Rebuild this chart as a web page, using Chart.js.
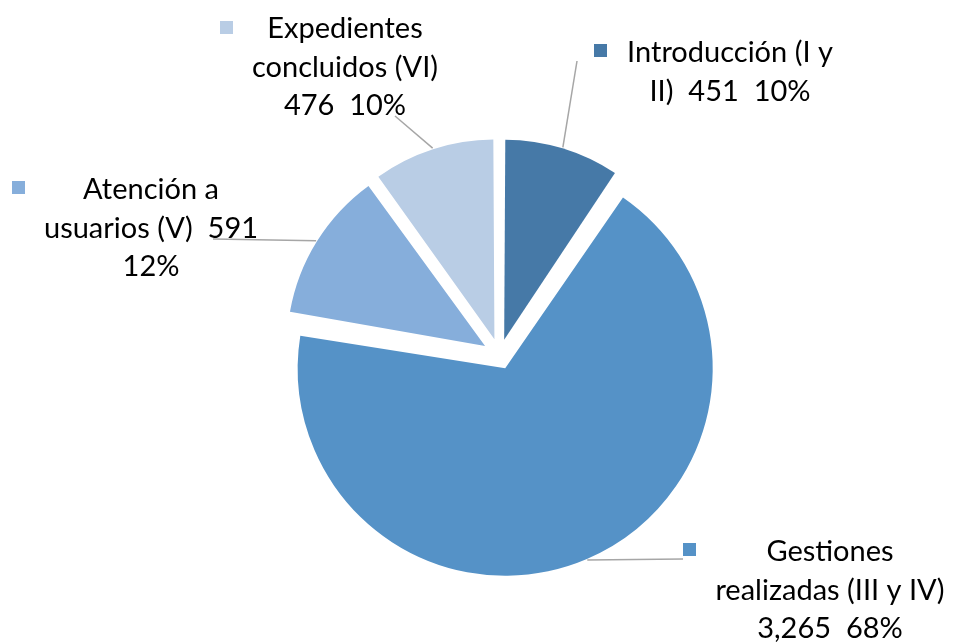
<!DOCTYPE html>
<html>
<head>
<meta charset="utf-8">
<script src="https://cdn.jsdelivr.net/npm/chart.js@4.4.1/dist/chart.umd.min.js"></script>
<style>
  html, body { margin: 0; padding: 0; background: #fff; }
  .chartBox { width: 953px; height: 643px; position: relative; }
</style>
</head>
<body>
<div class="chartBox">
  <canvas id="myChart"></canvas>
</div>
<script>
// section names, one line of text each
var categories = [
  ['Introducción (I y', 'II)'],
  ['Gestiones', 'realizadas (III y IV)'],
  ['Atención a', 'usuarios (V)'],
  ['Expedientes', 'concluidos (VI)']
];
var values = [451, 3265, 591, 476];
var percentLabels = ['10%', '68%', '12%', '10%'];
var colors = ['#4679A7', '#5592C7', '#86AEDB', '#B9CDE5'];

// how far each slice is pulled out (chart.js divides this by 4)
var explode = [64, 58, 68, 66];

// label blocks: text centre, first baseline, legend square, end of leader line
var labelSpots = [
  { cx: 730, y: 62,  sq: [594, 44],  end: [577, 61] },
  { cx: 830, y: 561, sq: [683, 543], end: [683, 559] },
  { cx: 151, y: 199, sq: [12, 181],  end: [213, 239] },
  { cx: 345, y: 38,  sq: [220, 21],  end: [395, 116] }
];

function labelLines(i) {
  var v = values[i].toLocaleString('en-US');
  var p = percentLabels[i];
  var c = categories[i];
  if (i == 0) return [c[0], c[1] + '  ' + v + '  ' + p];
  if (i == 2) return [c[0], c[1] + '  ' + v, p];
  return [c[0], c[1], v + '  ' + p];
}

var pieLabels = {
  id: 'pieLabels',
  afterDatasetsDraw: function(chart) {
    var ctx = chart.ctx;
    var meta = chart.getDatasetMeta(0);
    ctx.save();
    meta.data.forEach(function(arc, i) {
      var p = arc.getProps(['x', 'y', 'startAngle', 'endAngle', 'outerRadius', 'circumference'], true);
      var half = (p.startAngle + p.endAngle) / 2;
      var t = explode[i] / 4;
      var fix = 1 - Math.sin(Math.min(Math.PI, p.circumference));
      var r = p.outerRadius + t * fix;
      var ax = p.x + Math.cos(half) * t;
      var ay = p.y + Math.sin(half) * t;
      var sx = ax + Math.cos(half) * (r + 1);
      var sy = ay + Math.sin(half) * (r + 1);
      var spot = labelSpots[i];

      // leader line
      ctx.strokeStyle = '#A6A6A6';
      ctx.lineWidth = 1.5;
      ctx.beginPath();
      ctx.moveTo(sx, sy);
      ctx.lineTo(spot.end[0], spot.end[1]);
      ctx.stroke();

      // legend key
      ctx.fillStyle = colors[i];
      ctx.fillRect(spot.sq[0], spot.sq[1], 13, 13);

      // text
      ctx.fillStyle = '#000';
      ctx.font = '29px Lato';
      ctx.textAlign = 'center';
      ctx.textBaseline = 'alphabetic';
      labelLines(i).forEach(function(line, k) {
        ctx.fillText(line, spot.cx, spot.y + k * 38.5);
      });
    });
    ctx.restore();
  }
};

var ctx = document.getElementById('myChart').getContext('2d');
var myChart = new Chart(ctx, {
  type: 'pie',
  data: {
    labels: categories.map(function(c) { return c.join(' '); }),
    datasets: [{
      data: values,
      backgroundColor: colors,
      borderWidth: 0,
      offset: explode,
      radius: 193
    }]
  },
  options: {
    responsive: true,
    maintainAspectRatio: false,
    animation: false,
    layout: { padding: { left: 46, right: 0, top: 67, bottom: 0 } },
    plugins: {
      legend: { display: false },
      tooltip: { enabled: false }
    }
  },
  plugins: [pieLabels]
});
</script>
</body>
</html>
